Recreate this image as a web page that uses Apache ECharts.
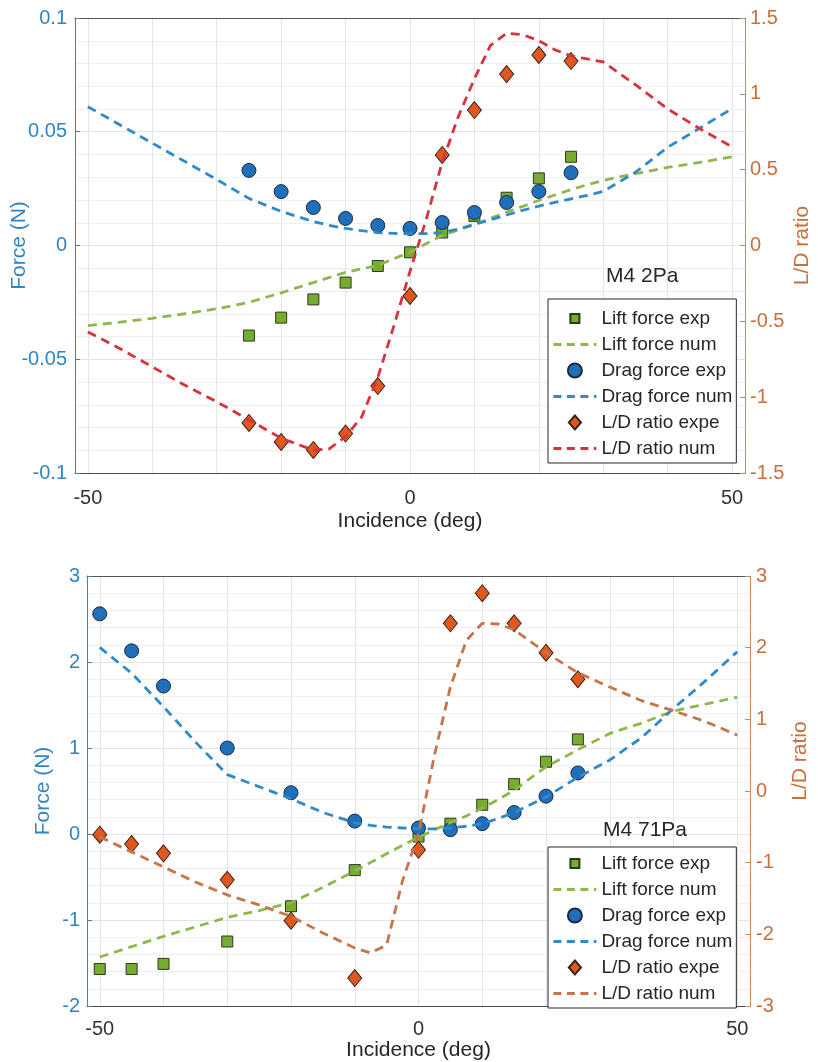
<!DOCTYPE html>
<html>
<head>
<meta charset="utf-8">
<script src="https://cdn.jsdelivr.net/npm/echarts@6/dist/echarts.min.js"></script>
<style>
html,body{margin:0;padding:0;background:#fff;}
#chart{width:818px;height:1062px;}
</style>
</head>
<body>
<div id="chart"></div>
<script>
// ---------- data: top panel (M4 2Pa) ----------
const topExpX      = [-25, -20, -15, -10, -5, 0, 5, 10, 15, 20, 25];
const topLiftExp   = [-0.0396, -0.0317, -0.0237, -0.0163, -0.0090, -0.0030, 0.0057, 0.0130, 0.0210, 0.0295, 0.0390];
const topDragExp   = [0.0330, 0.0237, 0.0167, 0.0119, 0.0088, 0.0075, 0.0101, 0.0145, 0.0189, 0.0237, 0.0320];
const topLDExp     = [-1.17, -1.295, -1.348, -1.24, -0.927, -0.333, 0.597, 0.893, 1.13, 1.256, 1.216];

const topNumX      = [-50, -45, -40, -35, -30, -25, -20, -15, -12.5, -10, -7.5, -5, -2.5, 0, 2.5, 5, 7.5, 10, 12.5, 15, 17.5, 20, 22.5, 25, 27.5, 30, 35, 40, 45, 50];
const topLiftNum   = [-0.0352, -0.0337, -0.0320, -0.0300, -0.0278, -0.0250, -0.0208, -0.0163, -0.0140, -0.0118, -0.0102, -0.0088, -0.0058, -0.0030, 0.0008, 0.0044, 0.0068, 0.0092, 0.0120, 0.0147, 0.0172, 0.0198, 0.0222, 0.0246, 0.0267, 0.0286, 0.0316, 0.0343, 0.0365, 0.0390];
const topDragNum   = [0.0610, 0.0530, 0.0450, 0.0370, 0.0290, 0.0207, 0.0150, 0.0105, 0.0088, 0.0075, 0.0065, 0.0057, 0.0053, 0.0052, 0.0052, 0.0058, 0.0072, 0.0093, 0.0113, 0.0134, 0.0155, 0.0173, 0.0190, 0.0205, 0.0220, 0.0238, 0.0322, 0.0432, 0.0516, 0.0602];
const topLDNum     = [-0.57, -0.68, -0.80, -0.92, -1.03, -1.15, -1.27, -1.35, -1.34, -1.26, -1.13, -0.87, -0.53, -0.17, 0.17, 0.55, 0.85, 1.10, 1.32, 1.40, 1.39, 1.35, 1.29, 1.25, 1.23, 1.21, 1.06, 0.90, 0.77, 0.65];

// ---------- data: bottom panel (M4 71Pa) ----------
const botExpX      = [-50, -45, -40, -30, -20, -10, 0, 5, 10, 15, 20, 25];
const botLiftExp   = [-1.57, -1.57, -1.51, -1.25, -0.84, -0.42, -0.03, 0.12, 0.34, 0.58, 0.84, 1.10];
const botDragExp   = [2.56, 2.13, 1.72, 1.00, 0.48, 0.15, 0.07, 0.05, 0.12, 0.25, 0.44, 0.71];
const botLDExp     = [-0.61, -0.74, -0.87, -1.24, -1.81, -2.61, -0.82, 2.34, 2.76, 2.34, 1.93, 1.56];

const botNumX      = [-50, -45, -40, -35, -30, -25, -20, -15, -10, -7.5, -5, -2.5, 0, 2.5, 5, 7.5, 10, 12.5, 15, 20, 25, 30, 35, 40, 45, 50];
const botLiftNum   = [-1.43, -1.31, -1.19, -1.08, -0.97, -0.89, -0.80, -0.62, -0.43, -0.33, -0.23, -0.13, -0.04, 0.05, 0.13, 0.21, 0.30, 0.40, 0.51, 0.78, 0.98, 1.17, 1.29, 1.43, 1.51, 1.59];
const botDragNum   = [2.17, 1.87, 1.48, 1.07, 0.69, 0.55, 0.41, 0.25, 0.13, 0.10, 0.08, 0.07, 0.06, 0.06, 0.07, 0.09, 0.12, 0.18, 0.25, 0.43, 0.66, 0.86, 1.12, 1.46, 1.78, 2.12];
const botLDNum     = [-0.64, -0.85, -1.06, -1.27, -1.45, -1.59, -1.75, -1.98, -2.19, -2.26, -2.15, -1.25, -0.60, 0.50, 1.45, 2.10, 2.34, 2.33, 2.25, 1.93, 1.65, 1.45, 1.26, 1.12, 0.97, 0.78];

// ---------- labels / ticks ----------
const seriesNames  = ['Lift force exp', 'Lift force num', 'Drag force exp', 'Drag force num', 'L/D ratio expe', 'L/D ratio num'];
const xGridTicks   = [-50, -40, -30, -20, -10, 0, 10, 20, 30, 40, 50];
const xLabelTicks  = [-50, 0, 50];
const topTitle     = 'M4 2Pa';
const botTitle     = 'M4 71Pa';
const xName        = 'Incidence (deg)';
const yLeftName    = 'Force (N)';
const yRightName   = 'L/D ratio';
const BOT_SUFFIX   = ' \u200b';

const zip = (xs, ys) => xs.map((x, i) => [x, ys[i]]);

const FONT = '"Liberation Sans", Arial, Helvetica, sans-serif';
const C = {
  liftMark: '#77AC30', liftLine: '#8fb84c',
  dragMark: '#1f6fba', dragLine: '#2e8ac8',
  ldMark: '#e0581f', ldLineTop: '#d8323c', ldLineBot: '#c8744a',
  blueTxt: '#2f86c2', orangeTxt: '#c8703c',
  grid: '#e4e4e4', minor: '#efefef'
};
const DASH = [9, 6];
const LEGEND_DASH = [8, 5.5];
const ICONS = [
  'path://M0,0M14,14M2.5,2.5L11.5,2.5L11.5,11.5L2.5,11.5Z',
  null,
  'circle',
  null,
  'path://M7,0L14,8L7,16L0,8Z',
  null
];

function xAxisMain(gridIndex, nameGap, labelMargin) {
  return {
    type: 'value', gridIndex, min: -52, max: 52, position: 'bottom',
    axisLine: { show: true, onZero: false, lineStyle: { color: '#4a4a4a', width: 1 } },
    axisTick: { show: false, customValues: xGridTicks },
    axisLabel: { customValues: xLabelTicks, color: '#333', fontSize: 20, fontFamily: FONT, margin: labelMargin },
    splitLine: { show: true, lineStyle: { color: C.grid, width: 1 } },
    name: xName, nameLocation: 'middle', nameGap, nameMoveOverlap: false,
    nameTextStyle: { fontSize: 21, color: '#262626', fontFamily: FONT }
  };
}
function xAxisTop(gridIndex) {
  return {
    type: 'value', gridIndex, min: -52, max: 52, position: 'top',
    axisLine: { show: true, onZero: false, lineStyle: { color: '#555', width: 1 } },
    axisTick: { show: false }, axisLabel: { show: false }, splitLine: { show: false }
  };
}
function yLeft(gridIndex, min, max, interval, nameGap, margin) {
  return {
    type: 'value', gridIndex, min, max, interval, position: 'left',
    axisLine: { show: true, onZero: false, lineStyle: { color: '#4a7fab', width: 1 } },
    axisTick: { show: true, inside: true, length: 5, lineStyle: { color: '#4a7fab' } },
    minorTick: { show: false, splitNumber: 5 },
    minorSplitLine: { show: true, lineStyle: { color: C.minor, width: 1 } },
    axisLabel: { color: C.blueTxt, fontSize: 20, fontFamily: FONT, margin },
    splitLine: { show: true, lineStyle: { color: C.grid, width: 1 } },
    name: yLeftName, nameLocation: 'middle', nameGap, nameMoveOverlap: false,
    nameTextStyle: { fontSize: 21, color: C.blueTxt, fontFamily: FONT }
  };
}
function yRight(gridIndex, min, max, interval, nameGap, margin, pad) {
  return {
    type: 'value', gridIndex, min, max, interval, position: 'right',
    axisLine: { show: true, onZero: false, lineStyle: { color: '#c98a62', width: 1 } },
    axisTick: { show: true, inside: true, length: 5, lineStyle: { color: '#c98a62' } },
    axisLabel: { color: C.orangeTxt, fontSize: 20, fontFamily: FONT, margin },
    splitLine: { show: false },
    name: yRightName, nameLocation: 'middle', nameGap, nameMoveOverlap: false,
    nameTextStyle: { fontSize: 21, color: C.orangeTxt, fontFamily: FONT, padding: pad }
  };
}

function buildSeries(suffix, xi, yl, yr, expX, liftE, dragE, ldE, numX, liftN, dragN, ldN, ldLineColor) {
  const scat = (name, data, yIdx, symbol, size, color, border) => ({
    name: name + suffix, type: 'scatter', xAxisIndex: xi, yAxisIndex: yIdx,
    data, symbol, symbolSize: size,
    itemStyle: { color, borderColor: border, borderWidth: 1, opacity: 1 },
    emphasis: { disabled: true }, z: 3
  });
  const line = (name, data, yIdx, color) => ({
    name: name + suffix, type: 'line', xAxisIndex: xi, yAxisIndex: yIdx,
    data, symbol: 'none', smooth: false,
    lineStyle: { color, width: 2.8, type: DASH },
    itemStyle: { color },
    emphasis: { disabled: true }, z: 4
  });
  return [
    scat(seriesNames[0], zip(expX, liftE), yl, 'rect', 11, C.liftMark, '#2b3a1e'),
    line(seriesNames[1], zip(numX, liftN), yl, C.liftLine),
    scat(seriesNames[2], zip(expX, dragE), yl, 'circle', 14, C.dragMark, '#1b2b3f'),
    line(seriesNames[3], zip(numX, dragN), yl, C.dragLine),
    scat(seriesNames[4], zip(expX, ldE), yr, 'diamond', [14, 17], C.ldMark, '#3b2616'),
    line(seriesNames[5], zip(numX, ldN), yr, ldLineColor)
  ];
}

function legend(top, suffix, padTop) {
  return {
    show: true, orient: 'vertical', left: 548, top,
    padding: [padTop, 4, 5, 4], itemWidth: 43, itemHeight: 14, itemGap: 7,
    backgroundColor: '#fff', borderColor: '#262626', borderWidth: 1, borderRadius: 0,
    selectedMode: false, symbolKeepAspect: true, z: 10,
    textStyle: { fontSize: 19, color: '#262626', fontFamily: FONT },
    data: seriesNames.map((n, i) => ICONS[i]
      ? { name: n + suffix, icon: ICONS[i] }
      : { name: n + suffix, itemStyle: { opacity: 0 }, lineStyle: { type: LEGEND_DASH, width: 2.8 } }),
    formatter: n => n.replace(BOT_SUFFIX, '')
  };
}

const option = {
  animation: false,
  backgroundColor: '#fff',
  grid: [
    { left: 75, top: 18, width: 670, height: 455, containLabel: false, outerBoundsMode: 'none' },
    { left: 87, top: 576, width: 663, height: 430, containLabel: false, outerBoundsMode: 'none' }
  ],
  xAxis: [ xAxisMain(0, 38, 15), xAxisTop(0), xAxisMain(1, 34, 13), xAxisTop(1) ],
  yAxis: [
    yLeft(0, -0.1, 0.1, 0.05, 45, 8),
    yRight(0, -1.5, 1.5, 0.5, 47, 5, 0),
    yLeft(1, -2, 3, 1, 33, 7),
    yRight(1, -3, 3, 1, 40, 6, [0, 0, 0, 60])
  ],
  legend: [ legend(299, '', 10), legend(847, BOT_SUFFIX, 7) ],
  graphic: [
    { type: 'text', left: 606, top: 266, z: 100, style: { text: topTitle, fill: '#262626', font: '21px ' + FONT } },
    { type: 'text', left: 603, top: 820, z: 100, style: { text: botTitle, fill: '#262626', font: '21px ' + FONT } }
  ],
  series: [
    ...buildSeries('', 0, 0, 1, topExpX, topLiftExp, topDragExp, topLDExp, topNumX, topLiftNum, topDragNum, topLDNum, C.ldLineTop),
    ...buildSeries(BOT_SUFFIX, 2, 2, 3, botExpX, botLiftExp, botDragExp, botLDExp, botNumX, botLiftNum, botDragNum, botLDNum, C.ldLineBot)
  ]
};

const chart = echarts.init(document.getElementById('chart'), null, { renderer: 'canvas' });
chart.setOption(option);
</script>
</body>
</html>
